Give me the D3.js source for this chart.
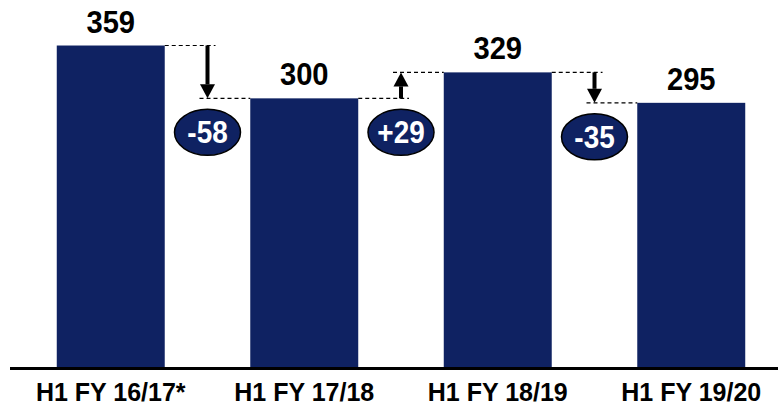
<!DOCTYPE html>
<html>
<head>
<meta charset="utf-8">
<script src="https://cdn.jsdelivr.net/npm/d3@7"></script>
<style>
  html, body { margin: 0; padding: 0; background: #fff; }
  svg { display: block; font-family: "Liberation Sans", Arial, sans-serif; }
</style>
</head>
<body>
<svg id="chart" width="778" height="407"></svg>
<script>
// Half-year totals
const categories = ["H1 FY 16/17*", "H1 FY 17/18", "H1 FY 18/19", "H1 FY 19/20"];
const values = [359, 300, 329, 295];
// Reported change between consecutive periods
const changes = [-58, 29, -35];
const changeLabels = ["-58", "+29", "-35"];

const W = 778, H = 407;
const baseY = 367;
const barColor = "#0f2262";

const svg = d3.select("#chart");

const x = d3.scaleBand()
  .domain(categories)
  .range([14, 788])
  .paddingInner(0.442)
  .paddingOuter(0.221);

const y = d3.scaleLinear()
  .domain([0, 400])
  .range([baseY, baseY - 358.2]);

// Bars
svg.append("g")
  .selectAll("rect")
  .data(values)
  .join("rect")
  .attr("x", (d, i) => x(categories[i]))
  .attr("y", d => y(d))
  .attr("width", x.bandwidth())
  .attr("height", d => y(0) - y(d))
  .attr("fill", barColor);

// Value labels above bars (slightly narrowed type)
svg.append("g")
  .selectAll("text")
  .data(values)
  .join("text")
  .attr("transform", (d, i) =>
    `translate(${x(categories[i]) + x.bandwidth() / 2},${y(d) - 13}) scale(0.94,1)`)
  .attr("text-anchor", "middle")
  .attr("font-size", 31)
  .attr("font-weight", "bold")
  .attr("fill", "#000")
  .text(d => d);

// Baseline axis with category labels
const axis = d3.axisBottom(x).tickSize(0).tickPadding(0);
const gAxis = svg.append("g")
  .attr("transform", `translate(0,${baseY})`)
  .call(axis);
gAxis.select(".domain").remove();
gAxis.selectAll("text")
  .attr("y", 34)
  .attr("dy", 0)
  .attr("font-size", 25)
  .attr("font-weight", "bold")
  .attr("font-family", "'Liberation Sans', Arial, sans-serif")
  .attr("fill", "#000");
svg.append("line")
  .attr("x1", 10).attr("x2", W)
  .attr("y1", baseY + 1.5).attr("y2", baseY + 1.5)
  .attr("stroke", "#000")
  .attr("stroke-width", 3);

// Bridges between consecutive bars: dashed connectors, arrow, change bubble
const bridges = svg.append("g");
changes.forEach((c, i) => {
  const v0 = values[i], v1 = values[i + 1];
  const left = x(categories[i]) + x.bandwidth();
  const right = x(categories[i + 1]);
  const ax = (left + right) / 2;
  const y0 = y(v0), y1 = y(v1);
  const down = c < 0;

  // dashed level lines
  bridges.append("line")
    .attr("x1", left).attr("x2", ax + 8)
    .attr("y1", y0).attr("y2", y0)
    .attr("stroke", "#000").attr("stroke-width", 1.2)
    .attr("stroke-dasharray", "4,3");
  bridges.append("line")
    .attr("x1", ax - 8).attr("x2", right)
    .attr("y1", y1).attr("y2", y1)
    .attr("stroke", "#000").attr("stroke-width", 1.2)
    .attr("stroke-dasharray", "4,3");

  // arrow from previous level to next level
  const dir = down ? 1 : -1;
  const headLen = 14, headHalf = 7.5;
  const shaftEnd = y1 - dir * headLen;
  bridges.append("line")
    .attr("x1", ax).attr("x2", ax)
    .attr("y1", y0).attr("y2", shaftEnd)
    .attr("stroke", "#000").attr("stroke-width", 4);
  bridges.append("path")
    .attr("d", `M${ax - headHalf},${shaftEnd} L${ax + headHalf},${shaftEnd} L${ax},${y1} Z`)
    .attr("fill", "#000");

  // change bubble
  const cy = y(Math.min(v0, v1)) + 34;
  bridges.append("ellipse")
    .attr("cx", ax).attr("cy", cy)
    .attr("rx", 33).attr("ry", 23)
    .attr("fill", barColor)
    .attr("stroke", "#000")
    .attr("stroke-width", 1.5);
  bridges.append("text")
    .attr("transform", `translate(${ax},${cy + 11}) scale(0.9,1)`)
    .attr("text-anchor", "middle")
    .attr("font-size", 31)
    .attr("font-weight", "bold")
    .attr("fill", "#fff")
    .text(changeLabels[i]);
});
</script>
</body>
</html>
